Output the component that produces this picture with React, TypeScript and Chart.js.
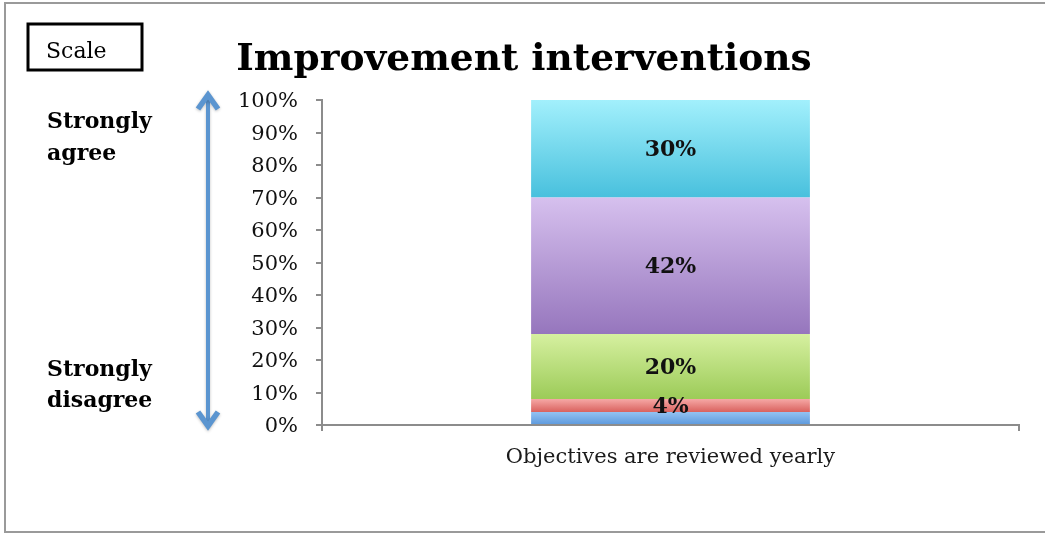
import React, { useEffect, useRef } from "react";
import { Chart, registerables } from "chart.js";

Chart.register(...registerables);

const categories = ["Objectives are reviewed yearly"];
const seriesNames = ["Strongly disagree", "Disagree", "Neutral", "Agree", "Strongly agree"];
const seriesValues = [[4], [4], [20], [42], [30]];
const seriesLabels = ["", "4%", "20%", "42%", "30%"];
const gradientTop = ["#94c2f2", "#f6a8a6", "#d6f0a0", "#d6c0ee", "#a2f0fc"];
const gradientBottom = ["#5b98dc", "#d9625e", "#9ccb58", "#9676bd", "#48c0dd"];
const yTicks = [0, 10, 20, 30, 40, 50, 60, 70, 80, 90, 100];
const titleText = "Improvement interventions";
const scaleText = "Scale";
const agreeLines = ["Strongly", "agree"];
const disagreeLines = ["Strongly", "disagree"];

const SERIF = '"DejaVu Serif", "Liberation Serif", serif';

const decorPlugin = {
  id: "decor",
  beforeDraw(chart: any) {
    const ctx = chart.ctx;
    ctx.save();
    ctx.fillStyle = "#ffffff";
    ctx.fillRect(0, 0, chart.width, chart.height);
    // outer frame (left, top, bottom)
    ctx.strokeStyle = "#9a9a9a";
    ctx.lineWidth = 2;
    ctx.beginPath();
    ctx.moveTo(chart.width + 5, 3);
    ctx.lineTo(5, 3);
    ctx.lineTo(5, 532);
    ctx.lineTo(chart.width + 5, 532);
    ctx.stroke();
    ctx.restore();
  },
  afterDraw(chart: any) {
    const ctx = chart.ctx;
    ctx.save();
    // title
    ctx.fillStyle = "#000000";
    ctx.font = `bold 37.5px ${SERIF}`;
    ctx.textAlign = "center";
    ctx.textBaseline = "middle";
    ctx.fillText(titleText, 524, 60);
    // scale box
    ctx.lineWidth = 3;
    ctx.strokeStyle = "#000000";
    ctx.strokeRect(28, 24, 114, 46);
    ctx.font = `22px ${SERIF}`;
    ctx.textAlign = "left";
    ctx.fillText(scaleText, 46, 52);
    // side labels
    ctx.font = `bold 22px ${SERIF}`;
    agreeLines.forEach((t, i) => ctx.fillText(t, 47, 122 + i * 32));
    disagreeLines.forEach((t, i) => ctx.fillText(t, 47, 370 + i * 31));
    // arrow
    const ax = 208;
    const top = chart.scales.y.getPixelForValue(100) - 7;
    const bot = chart.scales.y.getPixelForValue(0) + 3;
    ctx.strokeStyle = "#5b95d0";
    ctx.shadowColor = "rgba(0,0,0,0.25)";
    ctx.shadowBlur = 3;
    ctx.shadowOffsetY = 1;
    ctx.lineWidth = 4;
    ctx.beginPath();
    ctx.moveTo(ax, top + 3);
    ctx.lineTo(ax, bot - 3);
    ctx.stroke();
    ctx.lineWidth = 5.5;
    ctx.lineJoin = "miter";
    ctx.beginPath();
    ctx.moveTo(ax - 10, top + 16);
    ctx.lineTo(ax, top + 2);
    ctx.lineTo(ax + 10, top + 16);
    ctx.stroke();
    ctx.beginPath();
    ctx.moveTo(ax - 10, bot - 16);
    ctx.lineTo(ax, bot - 2);
    ctx.lineTo(ax + 10, bot - 16);
    ctx.stroke();
    ctx.restore();

    // data labels
    ctx.save();
    ctx.font = `bold 22px ${SERIF}`;
    ctx.fillStyle = "#111111";
    ctx.textAlign = "center";
    ctx.textBaseline = "middle";
    chart.data.datasets.forEach((ds: any, i: number) => {
      const label = seriesLabels[i];
      if (!label) return;
      const meta = chart.getDatasetMeta(i);
      meta.data.forEach((el: any) => {
        const cy = (el.y + el.base) / 2 + 2;
        ctx.fillText(label, el.x, cy);
      });
    });
    ctx.restore();
  },
};

function segmentGradient(i: number) {
  return (c: any) => {
    const chart = c.chart;
    const ys = chart.scales && chart.scales.y;
    if (!ys || !chart.chartArea) return gradientBottom[i];
    let start = 0;
    for (let k = 0; k < i; k++) start += seriesValues[k][c.dataIndex ?? 0] || 0;
    const end = start + (seriesValues[i][c.dataIndex ?? 0] || 0);
    const y0 = ys.getPixelForValue(end);
    const y1 = ys.getPixelForValue(start);
    if (!isFinite(y0) || !isFinite(y1) || y0 === y1) return gradientBottom[i];
    const g = chart.ctx.createLinearGradient(0, y0, 0, y1);
    g.addColorStop(0, gradientTop[i]);
    g.addColorStop(1, gradientBottom[i]);
    return g;
  };
}

export default function App() {
  const ref = useRef<HTMLCanvasElement>(null);
  useEffect(() => {
    document.body.style.margin = "0";
    const chart = new Chart(ref.current as HTMLCanvasElement, {
      type: "bar",
      data: {
        labels: categories,
        datasets: seriesNames.map((name, i) => ({
          label: name,
          data: seriesValues[i],
          backgroundColor: segmentGradient(i),
          borderWidth: 0,
          categoryPercentage: 0.4,
          barPercentage: 1,
        })),
      },
      plugins: [decorPlugin],
      options: {
        animation: false,
        responsive: false,
        devicePixelRatio: 1,
        layout: { padding: { left: 0, right: 26, top: 100, bottom: 0 } },
        plugins: {
          legend: { display: false },
          tooltip: { enabled: false },
          title: { display: false },
        },
        scales: {
          x: {
            stacked: true,
            border: { color: "#8c8c8c", width: 2 },
            grid: {
              display: true,
              drawOnChartArea: false,
              drawTicks: true,
              tickLength: 6,
              color: "#8c8c8c",
              lineWidth: 2,
              offset: true,
            },
            ticks: {
              color: "#1a1a1a",
              font: { family: SERIF, size: 21 },
              padding: 14,
            },
            afterFit: (s: any) => {
              s.height = 109;
            },
          },
          y: {
            stacked: true,
            min: 0,
            max: 100,
            afterBuildTicks: (s: any) => {
              s.ticks = yTicks.map((v) => ({ value: v }));
            },
            border: { color: "#8c8c8c", width: 2 },
            grid: {
              display: true,
              drawOnChartArea: false,
              tickLength: 6,
              color: "#8c8c8c",
              lineWidth: 2,
            },
            ticks: {
              color: "#111111",
              font: { family: SERIF, size: 21 },
              padding: 18,
              labelOffset: 2,
              callback: (v: any) => `${v}%`,
            },
            afterFit: (s: any) => {
              s.width = 322;
            },
          },
        },
      },
    });
    return () => chart.destroy();
  }, []);
  return (
    <div style={{ position: "absolute", left: 0, top: 0, width: 1045, height: 534 }}>
      <canvas ref={ref} width={1045} height={534} style={{ display: "block" }} />
    </div>
  );
}
